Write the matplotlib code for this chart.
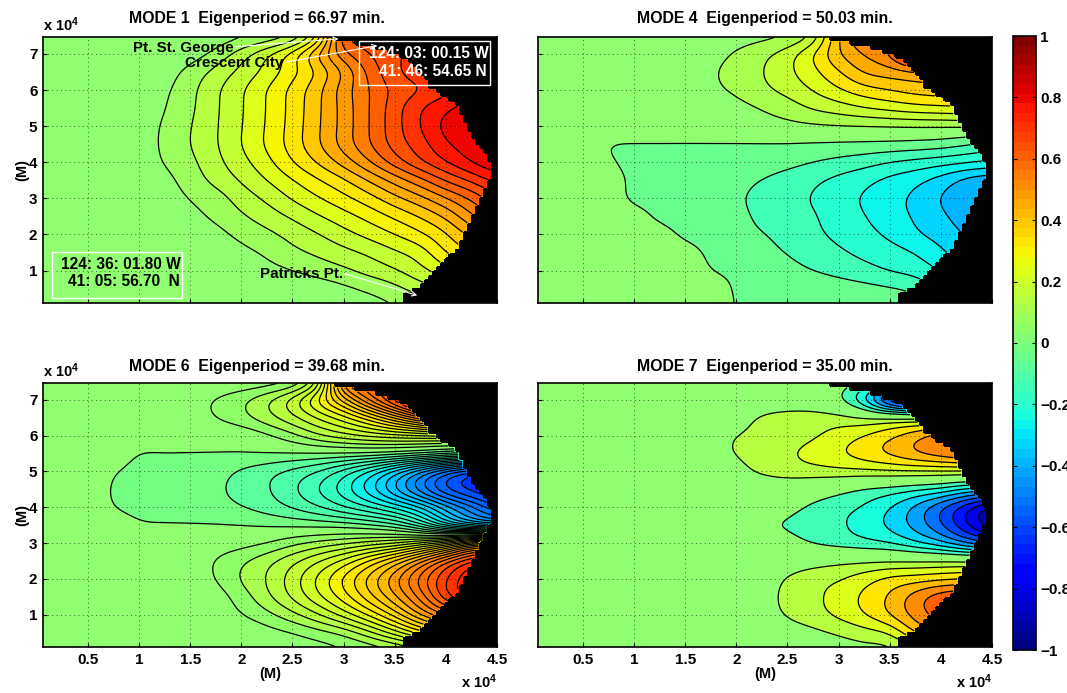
import numpy as np
import matplotlib
matplotlib.use("Agg")
import matplotlib.pyplot as plt
from matplotlib.cm import ScalarMappable
from matplotlib.colors import Normalize

plt.rcParams['font.family'] = ['Liberation Sans', 'DejaVu Sans']
plt.rcParams['font.weight'] = 'bold'
plt.rcParams['mathtext.default'] = 'regular'

# grid the amplitudes were read on, units of 1e4 m
grid_x = [0, .25, .5, .75, 1, 1.25, 1.5, 1.75, 2, 2.25, 2.5, 2.75, 3, 3.25, 3.5, 3.75, 4, 4.25, 4.5]
grid_y = [0, .5, 1, 1.5, 2, 2.5, 3, 3.5, 4, 4.5, 5, 5.5, 6, 6.5, 7, 7.5]

# coastline, black beyond it
coast_y = [.1, .36, .53, .82, 1.15, 1.38, 1.66, 2.12, 2.58, 2.86, 3.23, 3.6, 3.97, 4.25, 4.62, 4.99, 5.55, 5.82, 6.1, 6.47, 6.94, 7.21, 7.4, 7.47]
coast_x = [3.62, 3.62, 3.72, 3.83, 3.95, 4.03, 4.11, 4.19, 4.25, 4.30, 4.37, 4.44, 4.44, 4.37, 4.27, 4.19, 4.10, 4.0, 3.85, 3.78, 3.59, 3.33, 2.97, 2.87]

# amplitudes are given as contour counts, one row per grid_y
mode1_counts = [
    [0, 0, 0, 0, 0, 0, 0, 0, 0, 0, .1, .2, .4, .6, .9, 1.2, 1.5, 2, 2.5],
    [0, 0, 0, 0, 0, 0, 0, 0, 0, .1, .3, .45, .8, 1.2, 1.7, 2.5, 3, 3.5, 4],
    [0, 0, 0, 0, 0, 0, 0, .1, .4, .7, 1, 1.4, 1.8, 2.35, 2.9, 3.7, 4.6, 5.5, 6],
    [0, 0, 0, 0, 0, 0, .1, .4, .75, 1.15, 1.75, 2.2, 2.7, 3.2, 3.85, 4.5, 6, 7, 8],
    [0, 0, 0, 0, 0, .1, .3, .7, 1.25, 1.75, 2.35, 2.95, 3.65, 4.3, 5, 5.8, 6.9, 8.3, 9],
    [0, 0, 0, 0, .1, .3, .7, 1.2, 1.85, 2.5, 3.15, 3.9, 4.6, 5.35, 6.2, 7.1, 8.2, 9.8, 11],
    [0, 0, 0, .1, .2, .5, 1.05, 1.55, 2.45, 3.2, 4.1, 4.9, 5.7, 6.6, 7.7, 8.7, 9.95, 11.2, 12.6],
    [0, 0, .1, .2, .3, .7, 1.45, 2.3, 3.1, 4, 4.95, 5.9, 6.85, 8.1, 9.4, 10.7, 12.1, 13.2, 14.3],
    [0, 0, .1, .3, .5, 1.05, 1.75, 2.7, 3.65, 4.7, 5.95, 7.1, 8.4, 9.9, 11.45, 12.8, 13.95, 15, 15.8],
    [0, 0, .1, .3, .6, 1.15, 2, 2.9, 4, 5.15, 6.45, 7.85, 9.4, 10.9, 12.4, 13.55, 14.85, 15.6, 16.2],
    [0, 0, .1, .3, .6, 1.1, 1.95, 2.9, 3.95, 5.1, 6.4, 7.85, 9.4, 11, 12.6, 14, 15.3, 16, 16.5],
    [0, 0, .1, .3, .5, .95, 1.8, 2.85, 3.9, 5.05, 6.35, 7.8, 9.4, 11, 12.55, 13.9, 14.8, 15.5, 16],
    [0, 0, .1, .2, .4, .8, 1.7, 2.8, 3.85, 5, 6.3, 7.7, 9.5, 11, 12.3, 13, 13.7, 14.5, 15],
    [0, 0, 0, .1, .2, .5, 1.35, 2.3, 3.3, 4.35, 5.65, 7.2, 9.2, 11.3, 12.8, 13.5, 14, 14.5, 15],
    [0, 0, 0, 0, .1, .2, .5, 1.3, 2.5, 3.8, 5.4, 8, 10.7, 12, 12.8, 13.5, 14, 14.5, 15],
    [0, 0, 0, 0, 0, .1, .2, .4, .8, 1.2, 2, 5, 12, 12.5, 13, 13.5, 14, 14.5, 15],
]

mode4_counts = [
    [.3, .3, .3, .3, .3, .3, .3, .1, -.35, -.4, -.45, -.5, -.6, -.7, -.85, -1, -1.2, -1.5, -2],
    [.3, .3, .3, .3, .3, .3, .3, .1, -.4, -.5, -.6, -.7, -.85, -1, -1.2, -1.5, -2.5, -3, -3.5],
    [.3, .3, .3, .3, .3, .3, .2, -.3, -.45, -.6, -.95, -1.3, -1.6, -1.95, -2.35, -2.7, -3.35, -4, -4.5],
    [.3, .3, .3, .3, .3, .3, .1, -.5, -.7, -1, -1.35, -1.8, -2.15, -2.55, -2.9, -3.35, -4.1, -5, -5.5],
    [.3, .3, .3, .3, .3, .1, -.5, -.75, -1, -1.25, -1.6, -2.1, -2.5, -2.95, -3.5, -4.15, -4.7, -5.4, -6],
    [.3, .3, .3, .3, .1, -.5, -.7, -.9, -1.05, -1.5, -1.85, -2.2, -2.75, -3.25, -3.9, -4.4, -5.1, -5.8, -6.2],
    [.3, .3, .3, .2, -.5, -.6, -.75, -.95, -1.15, -1.6, -2, -2.35, -2.9, -3.4, -3.95, -4.5, -5.35, -6, -6.5],
    [.3, .3, .3, .1, -.5, -.6, -.7, -.85, -1, -1.32, -1.7, -2.1, -2.55, -3, -3.55, -4, -4.7, -5.6, -6],
    [.3, .3, .3, -.2, -.5, -.55, -.6, -.65, -.7, -.8, -1, -1.3, -1.6, -1.9, -2.3, -2.6, -2.9, -3.2, -3.5],
    [.3, .3, .2, -.3, -.35, -.35, -.35, -.35, -.35, -.35, -.35, -.4, -.45, -.5, -.55, -.65, -.8, -1.2, -1.5],
    [.3, .3, .3, .3, .3, .3, .3, .35, .4, .55, .7, .85, .95, 1, 1.05, 1.1, 1.1, 1.15, 1.2],
    [.3, .3, .3, .3, .3, .3, .4, .5, .7, 1.05, 1.5, 2.1, 2.5, 2.95, 3.3, 3.6, 3.75, 3.85, 3.9],
    [.3, .3, .3, .3, .3, .3, .5, .8, 1.15, 1.75, 2.3, 3.05, 3.85, 4.6, 5, 5.4, 5.6, 5.7, 5.8],
    [.3, .3, .3, .3, .3, .3, .55, .85, 1.4, 1.95, 2.75, 3.7, 4.9, 6.1, 6.5, 6.9, 7.1, 7.2, 7.3],
    [.3, .3, .3, .3, .3, .3, .4, .65, 1.1, 1.7, 2.5, 3.95, 5.9, 7.1, 8.1, 11, 12, 12, 12],
    [.3, .3, .3, .3, .3, .3, .3, .5, .6, .7, 1, 2.2, 6, 8, 8, 8, 8, 8, 8],
]

mode6_counts = [
    [.1, .1, .1, .1, .1, .1, .1, .1, .1, .2, .3, .5, .8, 1.1, 1.5, 2, 2.5, 3, 3.5],
    [.1, .1, .1, .1, .1, .1, .1, .1, .2, .6, 1, 1.6, 2.3, 3.7, 5.5, 7.5, 9, 10, 11],
    [.1, .1, .1, .1, .1, .1, .1, .3, .95, 1.7, 2.7, 3.9, 5.4, 7.2, 9.4, 12, 14, 15, 16],
    [.1, .1, .1, .1, .1, .1, .2, .5, 1.5, 2.75, 4.15, 5.75, 7.5, 9.6, 11.8, 14.35, 17.6, 19.5, 21],
    [.1, .1, .1, .1, .1, .2, .45, 1, 2.1, 3.05, 4.5, 6.2, 8.15, 10.3, 12.6, 15.3, 17.9, 20, 21],
    [.1, .1, .1, .1, .1, .2, .4, 1.05, 1.8, 2.65, 3.7, 4.9, 6.3, 8.15, 10.2, 12.8, 15.7, 18, 19],
    [.1, .1, .1, .1, .1, .1, .2, .4, .6, 1, 1.7, 2.3, 2.8, 3.4, 4, 5.2, 7, 10, 11],
    [.2, .2, .2, .1, -.22, -.25, -.25, -.25, -.3, -.4, -.5, -.6, -.75, -1.2, -2, -4, -7, -9, -10],
    [.2, .2, .2, -.3, -.5, -.55, -.65, -.9, -1.25, -1.75, -2.4, -3.2, -4.2, -5.25, -6.55, -8.25, -10.8, -13, -15],
    [.2, .2, .2, -.4, -.5, -.55, -.65, -1.1, -1.65, -2.2, -3.1, -4.3, -5.8, -7.8, -10.2, -12.8, -15.2, -16.6, -17.5],
    [.2, .2, .2, -.25, -.5, -.6, -.75, -.9, -1.45, -1.96, -2.57, -3.35, -4.7, -6.45, -8.75, -11.3, -13.8, -15.5, -16],
    [.2, .2, .2, .1, -.32, -.32, -.32, -.32, -.32, -.32, -.34, -.36, -.4, -.5, -.8, -1.3, -2, -2.5, -3],
    [.1, .1, .1, .1, .1, .1, .1, .1, .2, .8, 1.7, 2.8, 3.6, 4.2, 4.6, 4.8, 5, 5, 5],
    [.1, .1, .1, .1, .1, .1, .5, 1, 1.65, 2.6, 3.7, 5.1, 6.6, 8.6, 11.1, 13.7, 16.5, 19, 20],
    [.1, .1, .1, .1, .1, .3, .6, 1.05, 1.75, 2.8, 4.4, 7.1, 10.5, 14.2, 17.5, 21, 24, 26, 27],
    [.1, .1, .1, .1, .1, .1, .2, .2, .2, .4, 1, 4, 14, 16, 16, 16, 16, 16, 16],
]

mode7_counts = [
    [.1, .1, .1, .1, .1, .1, .1, .1, .1, .1, .1, .2, .4, .6, .6, 1.5, 2, 2, 2],
    [.1, .1, .1, .1, .1, .1, .1, .1, .1, .2, .45, .75, 1.15, 1.6, 2.1, 4, 5, 5, 5],
    [.1, .1, .1, .1, .1, .1, .1, .1, .15, .5, 1.1, 1.6, 2.2, 2.95, 4, 5.4, 6.5, 7, 7],
    [.1, .1, .1, .1, .1, .1, .1, .1, .2, .6, 1.25, 1.75, 2.4, 3.2, 4.15, 5.45, 6.6, 7, 7],
    [.1, .1, .1, .1, .1, .1, .1, .1, .1, .4, 1.1, 1.6, 1.9, 2.55, 3.25, 3.5, 3.8, 4, 4],
    [.1, .1, .1, .1, .1, .1, .1, .1, .1, .1, .3, .5, .7, .8, .9, .9, .95, .95, .95],
    [.1, .1, .1, .1, .1, .1, .1, .1, .1, .1, -.5, -1.05, -1.4, -1.7, -2, -2.8, -3.7, -5, -6],
    [.1, .1, .1, .1, .1, .1, .1, .1, .1, -.75, -1.15, -1.5, -1.85, -2.4, -3.2, -4.35, -5.85, -7.9, -9.5],
    [.1, .1, .1, .1, .1, .1, .1, .1, .1, .05, -.6, -1.2, -1.65, -2.1, -2.95, -4.2, -5.8, -7.6, -9.4],
    [.1, .1, .1, .1, .1, .1, .1, .1, .1, .1, .1, -.2, -.6, -1.1, -1.4, -1.85, -2.3, -3.2, -3.5],
    [.1, .1, .1, .1, .1, .1, .1, .2, .6, 1.2, 1.5, 1.6, 1.7, 1.75, 1.85, 1.9, 1.9, 1.9, 1.9],
    [.1, .1, .1, .1, .1, .1, .3, .6, 1.05, 1.45, 1.85, 2.35, 2.85, 3.5, 4.15, 4.9, 5.5, 6, 6],
    [.1, .1, .1, .1, .1, .1, .3, .6, 1, 1.25, 1.5, 1.85, 2.4, 3, 3.75, 4.6, 5.5, 6, 6],
    [.1, .1, .1, .1, .1, .1, .1, .2, .5, 1.15, 1.5, 1.5, 1.4, 1, .95, .9, .8, .5, .5],
    [.1, .1, .1, .1, .1, .1, .1, .1, .1, .1, .1, .1, -.8, -3, -7, -9, -9, -9, -9],
    [.1, .1, .1, .1, .1, .1, .1, .1, .1, .1, .1, .1, -.5, -1, -2, -3, -4, -4, -4],
]

mode_titles = ['MODE 1  Eigenperiod = 66.97 min.', 'MODE 4  Eigenperiod = 50.03 min.',
               'MODE 6  Eigenperiod = 39.68 min.', 'MODE 7  Eigenperiod = 35.00 min.']

# contour spacing of each panel
mode1_step = 0.052
mode4_step = 0.07
mode6_step = 0.0375
mode7_step = 0.095

mode1_levels = [1, 2, 3, 4, 5, 6, 7, 8, 9, 10, 11, 12, 13, 14, 15]
mode4_levels = [-5.3, -4.3, -3.3, -2.3, -1.3, -.3, 1, 2, 3, 4, 5, 6, 7, 8, 9, 10, 11]
mode6_levels = [-17.3, -16.3, -15.3, -14.3, -13.3, -12.3, -11.3, -10.3, -9.3, -8.3, -7.3, -6.3, -5.3, -4.3, -3.3, -2.3, -1.3, -.3,
                1, 2, 3, 4, 5, 6, 7, 8, 9, 10, 11, 12, 13, 14, 15, 16, 17, 18, 19, 20, 21, 22, 23, 24, 25, 26]
mode7_levels = [-9, -8, -7, -6, -5, -4, -3, -2, -1, 1, 2, 3, 4, 5, 6, 7]

x_ticks = [.5, 1, 1.5, 2, 2.5, 3, 3.5, 4, 4.5]
x_tick_labels = ['0.5', '1', '1.5', '2', '2.5', '3', '3.5', '4', '4.5']
y_ticks = [1, 2, 3, 4, 5, 6, 7]
cbar_ticks = [-1, -.8, -.6, -.4, -.2, 0, .2, .4, .6, .8, 1]
cbar_tick_labels = ['\u22121', '\u22120.8', '\u22120.6', '\u22120.4', '\u22120.2', '0', '0.2', '0.4', '0.6', '0.8', '1']

FIG_W = 1067
FIG_H = 693
jet = plt.get_cmap('jet', 64)
norm = Normalize(-1, 1)


def pixel_axes(fig, left, top, right, bottom):
    return fig.add_axes([left / FIG_W, 1 - bottom / FIG_H, (right - left) / FIG_W, (bottom - top) / FIG_H])


def cubic_resample(z, old, new, axis):
    # Catmull-Rom between the read grid values, so contours do not look polygonal
    z = np.moveaxis(z, axis, 0)
    h = old[1] - old[0]
    pos = (new - old[0]) / h
    i = np.clip(np.floor(pos).astype(int), 0, len(old) - 2)
    t = pos - i
    p0 = z[np.clip(i - 1, 0, len(old) - 1)]
    p1 = z[i]
    p2 = z[i + 1]
    p3 = z[np.clip(i + 2, 0, len(old) - 1)]
    t = t.reshape(-1, *([1] * (z.ndim - 1)))
    out = 0.5 * (2 * p1 + (p2 - p0) * t + (2 * p0 - 5 * p1 + 4 * p2 - p3) * t ** 2 + (3 * p1 - p0 - 3 * p2 + p3) * t ** 3)
    return np.moveaxis(out, 0, axis)


def blur(z, sigma_cells, axis):
    # takes out the row to row wobble of reading values by eye
    half = int(3 * sigma_cells)
    kernel = np.exp(-0.5 * (np.arange(-half, half + 1) / sigma_cells) ** 2)
    kernel = kernel / kernel.sum()
    z = np.moveaxis(z, axis, 0)
    padded = np.pad(z, ((half, half), (0, 0)), mode='edge')
    out = np.apply_along_axis(lambda c: np.convolve(c, kernel, mode='valid'), 0, padded)
    return np.moveaxis(out, 0, axis)


def draw_mode(ax, counts, count_levels, step):
    gx = np.array(grid_x)
    gy = np.array(grid_y)
    fine_x = np.arange(0.06, 4.505, 0.02)
    fine_y = np.arange(0.1, 7.48, 0.04)
    z = np.array(counts, dtype=float) * step
    z = cubic_resample(z, gy, fine_y, 0)
    z = cubic_resample(z, gx, fine_x, 1)
    z = blur(z, 3.5, 0)
    z = blur(z, 4.0, 1)
    xx, yy = np.meshgrid(fine_x, fine_y)

    # stair-step the shoreline the way a model grid does
    cell_y = np.round(fine_y / 0.12) * 0.12
    limit = np.interp(cell_y, coast_y, coast_x)
    limit = np.round(limit / 0.04) * 0.04
    z = np.ma.masked_where(xx > limit[:, None], z)

    levels = [v * step for v in count_levels]
    edges = [-1.0] + levels + [1.0]
    colors = []
    for k in range(len(edges) - 1):
        lo = edges[k]
        hi = edges[k + 1]
        if lo <= 0 <= hi:
            colors.append((144 / 255, 1.0, 112 / 255))
        elif k == 0:
            colors.append(jet(norm(hi - step / 2)))
        elif k == len(edges) - 2:
            colors.append(jet(norm(lo + step / 2)))
        else:
            colors.append(jet(norm((lo + hi) / 2)))

    ax.set_facecolor('black')
    ax.contourf(xx, yy, z.clip(-.999, .999), levels=edges, colors=colors, antialiased=False)
    ax.contour(xx, yy, z, levels=levels, colors='black', linewidths=0.9, linestyles='solid')


def style_axes(ax, show_x, show_y):
    ax.set_xlim(0.06, 4.5)
    ax.set_ylim(0.1, 7.47)
    ax.set_xticks(x_ticks)
    ax.set_yticks(y_ticks)
    ax.set_xticklabels(x_tick_labels if show_x else [])
    ax.set_yticklabels([str(v) for v in y_ticks] if show_y else [])
    ax.tick_params(direction='in', length=3, width=0.8, labelsize=11, pad=4, top=False, right=False)
    ax.grid(True, color='black', linestyle=(0, (1, 3.5)), linewidth=0.7, alpha=0.6)
    ax.set_axisbelow(False)
    for s in ax.spines.values():
        s.set_linewidth(1.2)


def arrow_note(ax, label, text_xy, tip_xy, start_xy):
    ax.text(text_xy[0], text_xy[1], label, color='black', fontsize=11, va='center', zorder=6)
    ax.annotate('', xy=tip_xy, xytext=start_xy, zorder=7,
                arrowprops=dict(arrowstyle='->', color='white', lw=0.8, shrinkA=0, shrinkB=0, mutation_scale=8))


def info_box(ax, x0, y0, x1, y1, color):
    ax.add_patch(plt.Rectangle((x0, y0), x1 - x0, y1 - y0, fill=False, edgecolor=color, linewidth=1.0, zorder=6))


if __name__ == "__main__":
    fig = plt.figure(figsize=(FIG_W / 100, FIG_H / 100), dpi=100)

    ax1 = pixel_axes(fig, 43, 37, 497, 303)
    ax4 = pixel_axes(fig, 538, 37, 992, 303)
    ax6 = pixel_axes(fig, 43, 383, 497, 647)
    ax7 = pixel_axes(fig, 538, 383, 992, 647)

    draw_mode(ax1, mode1_counts, mode1_levels, mode1_step)
    draw_mode(ax4, mode4_counts, mode4_levels, mode4_step)
    draw_mode(ax6, mode6_counts, mode6_levels, mode6_step)
    draw_mode(ax7, mode7_counts, mode7_levels, mode7_step)

    style_axes(ax1, False, True)
    style_axes(ax4, False, False)
    style_axes(ax6, True, True)
    style_axes(ax7, True, False)

    ax1.set_title(mode_titles[0], fontsize=11.4, fontweight='bold', pad=10, x=0.471)
    ax4.set_title(mode_titles[1], fontsize=11.4, fontweight='bold', pad=10)
    ax6.set_title(mode_titles[2], fontsize=11.4, fontweight='bold', pad=9, x=0.471)
    ax7.set_title(mode_titles[3], fontsize=11.4, fontweight='bold', pad=9)

    # y axis scale and unit labels
    for ax in [ax1, ax6]:
        ax.text(0.0, 1.012, 'x 10$^{4}$', transform=ax.transAxes, fontsize=10.5, va='bottom', ha='left')
        ax.set_ylabel('(M)', fontsize=10.5, fontweight='bold', labelpad=0)
    for ax in [ax6, ax7]:
        ax.set_xlabel('(M)', fontsize=10.5, fontweight='bold', labelpad=0)
        ax.text(1.0, -0.095, 'x 10$^{4}$', transform=ax.transAxes, fontsize=10.5, va='top', ha='right')

    # place names on mode 1
    arrow_note(ax1, 'Pt. St. George', (0.94, 7.17), (2.95, 7.42), (1.95, 7.2))
    arrow_note(ax1, 'Crescent City', (1.45, 6.75), (3.33, 7.23), (2.43, 6.77))
    arrow_note(ax1, 'Patricks Pt.', (2.18, 0.9), (3.72, 0.31), (3.0, 0.92))

    info_box(ax1, 3.15, 6.15, 4.43, 7.35, 'white')
    ax1.text(4.42, 7.0, '124: 03: 00.15 W', color='white', fontsize=11.2, ha='right', va='center', zorder=7)
    ax1.text(4.40, 6.52, '41: 46: 54.65 N', color='white', fontsize=11.2, ha='right', va='center', zorder=7)
    info_box(ax1, 0.15, 0.24, 1.42, 1.52, 'white')
    ax1.text(1.41, 1.17, '124: 36: 01.80 W', color='black', fontsize=11.2, ha='right', va='center', zorder=7)
    ax1.text(1.40, 0.70, '41: 05: 56.70  N', color='black', fontsize=11.2, ha='right', va='center', zorder=7)

    # shared colorbar
    cax = pixel_axes(fig, 1013, 36, 1036, 650)
    cb = fig.colorbar(ScalarMappable(norm=norm, cmap=jet), cax=cax, ticks=cbar_ticks)
    cb.ax.set_yticklabels(cbar_tick_labels)
    cb.ax.tick_params(direction='in', length=3, width=0.8, labelsize=11, left=True, right=True, pad=3)
    cb.outline.set_linewidth(1.2)

    fig.savefig('out.png', dpi=100)
